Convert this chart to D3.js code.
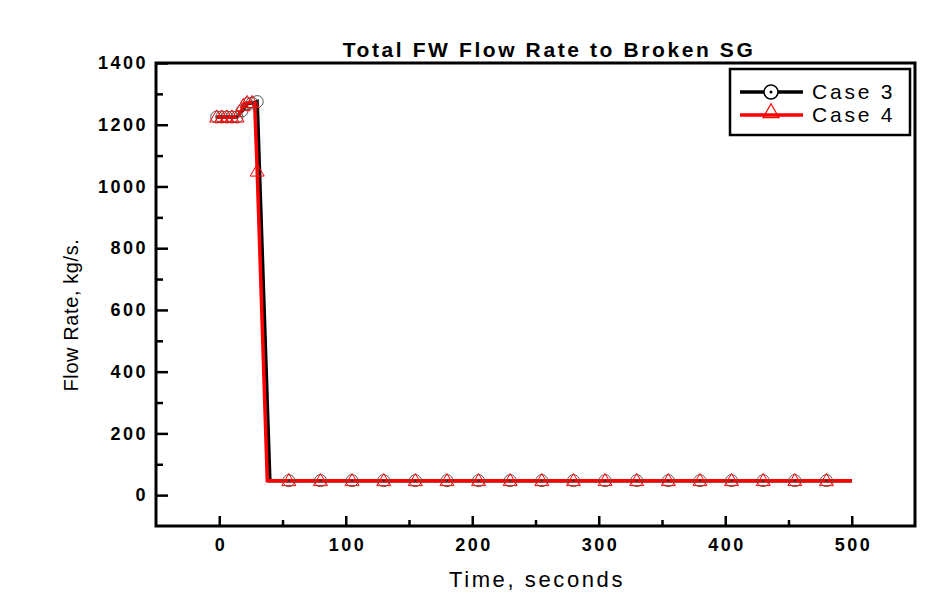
<!DOCTYPE html>
<html lang="en">
<head>
    <meta charset="UTF-8">
    <title>Total FW Flow Rate to Broken SG</title>
    <style>
        body { margin: 0; background: #fff; }
        svg text { font-family: Arial, "Liberation Sans", sans-serif; fill: #000; }
    </style>
</head>
<body>
    <div id="chart"></div>

    <script src="https://d3js.org/d3.v7.min.js"></script>
    <script>
        // Case 3 (black, circles) - line points
        const case3Time = [-2, 2, 6, 10, 14, 18, 22, 26, 30, 40, 55, 80, 105, 130, 155, 180, 205, 230, 255, 280, 305, 330, 355, 380, 405, 430, 455, 480, 500];
        const case3Flow = [1225, 1225, 1225, 1225, 1225, 1245, 1268, 1270, 1275, 47, 47, 47, 47, 47, 47, 47, 47, 47, 47, 47, 47, 47, 47, 47, 47, 47, 47, 47, 47];
        // Case 4 (red, triangles) - line points
        const case4Time = [-2, 2, 6, 10, 14, 17, 20, 24, 28, 30, 38, 55, 80, 105, 130, 155, 180, 205, 230, 255, 280, 305, 330, 355, 380, 405, 430, 455, 480, 500];
        const case4Flow = [1225, 1225, 1225, 1225, 1225, 1240, 1268, 1272, 1270, 1050, 47, 47, 47, 47, 47, 47, 47, 47, 47, 47, 47, 47, 47, 47, 47, 47, 47, 47, 47, 47];

        // symbol positions (the corner and end points carry no symbol)
        const case3MarkTime = [-2, 2, 6, 10, 14, 18, 22, 26, 30, 55, 80, 105, 130, 155, 180, 205, 230, 255, 280, 305, 330, 355, 380, 405, 430, 455, 480];
        const case3MarkFlow = [1225, 1225, 1225, 1225, 1225, 1245, 1268, 1270, 1275, 47, 47, 47, 47, 47, 47, 47, 47, 47, 47, 47, 47, 47, 47, 47, 47, 47, 47];
        const case4MarkTime = [-2, 2, 6, 10, 14, 19, 22, 26, 30, 55, 80, 105, 130, 155, 180, 205, 230, 255, 280, 305, 330, 355, 380, 405, 430, 455, 480];
        const case4MarkFlow = [1225, 1225, 1225, 1225, 1225, 1262, 1272, 1272, 1050, 47, 47, 47, 47, 47, 47, 47, 47, 47, 47, 47, 47, 47, 47, 47, 47, 47, 47];

        const xMajor = [0, 100, 200, 300, 400, 500];
        const xMinor = [50, 150, 250, 350, 450];
        const yMajor = [0, 200, 400, 600, 800, 1000, 1200, 1400];
        const yMinor = [100, 300, 500, 700, 900, 1100, 1300];

        const width = 935;
        const height = 604;
        const margin = { top: 63, right: 20, bottom: 78, left: 156 };

        const svg = d3.select("#chart").append("svg")
            .attr("width", width)
            .attr("height", height);

        const x = d3.scaleLinear()
            .domain([-50, 550])
            .range([margin.left, width - margin.right]);

        const y = d3.scaleLinear()
            .domain([-100, 1400])
            .range([height - margin.bottom, margin.top]);

        const plotBottom = height - margin.bottom;
        const fmt = d3.format("d");

        // axes with inward ticks
        function styleAxis(g) {
            g.select(".domain").remove();
            g.selectAll(".tick line").attr("stroke", "#000").attr("stroke-width", 2.5);
            g.selectAll(".tick text")
                .style("font-size", "18px")
                .style("font-weight", "bold")
                .style("letter-spacing", "2.5px");
        }

        svg.append("g")
            .attr("transform", `translate(0, ${plotBottom})`)
            .call(d3.axisBottom(x).tickValues(xMajor).tickFormat(fmt).tickSizeInner(-10).tickSizeOuter(0).tickPadding(12))
            .call(styleAxis)
            .selectAll(".tick text").attr("dx", "1.2px");

        svg.append("g")
            .attr("transform", `translate(0, ${plotBottom})`)
            .call(d3.axisBottom(x).tickValues(xMinor).tickSizeInner(-6).tickSizeOuter(0).tickFormat(""))
            .call(styleAxis);

        svg.append("g")
            .attr("transform", `translate(${margin.left}, 0)`)
            .call(d3.axisLeft(y).tickValues(yMajor).tickFormat(fmt).tickSizeInner(-12).tickSizeOuter(0).tickPadding(8))
            .call(styleAxis);

        svg.append("g")
            .attr("transform", `translate(${margin.left}, 0)`)
            .call(d3.axisLeft(y).tickValues(yMinor).tickSizeInner(-7).tickSizeOuter(0).tickFormat(""))
            .call(styleAxis);

        // frame
        svg.append("rect")
            .attr("x", x(-50))
            .attr("y", y(1400))
            .attr("width", x(550) - x(-50))
            .attr("height", y(-100) - y(1400))
            .attr("fill", "none")
            .attr("stroke", "#000")
            .attr("stroke-width", 3);

        // lines
        const line = d3.line().x(d => x(d[0])).y(d => y(d[1]));
        const case3 = d3.zip(case3Time, case3Flow);
        const case4 = d3.zip(case4Time, case4Flow);

        svg.append("path")
            .attr("d", line(case3))
            .attr("fill", "none")
            .attr("stroke", "#000")
            .attr("stroke-width", 3.5);

        svg.append("path")
            .attr("d", line(case4))
            .attr("fill", "none")
            .attr("stroke", "#ff0000")
            .attr("stroke-width", 3.5);

        // symbols
        const tri = d3.symbol().type(d3.symbolTriangle).size(85);

        function circleMark(g, cx, cy) {
            g.append("circle")
                .attr("cx", cx).attr("cy", cy).attr("r", 6)
                .attr("fill", "none")
                .attr("stroke", "#555")
                .attr("stroke-width", 1);
            g.append("circle")
                .attr("cx", cx).attr("cy", cy).attr("r", 1.2)
                .attr("fill", "#333");
        }

        const marks = svg.append("g");
        d3.zip(case3MarkTime, case3MarkFlow).forEach(d => circleMark(marks, x(d[0]), y(d[1])));

        marks.selectAll(".tri")
            .data(d3.zip(case4MarkTime, case4MarkFlow))
            .enter()
            .append("path")
            .attr("class", "tri")
            .attr("d", tri)
            .attr("transform", d => `translate(${x(d[0])}, ${y(d[1]) + 1})`)
            .attr("fill", "none")
            .attr("stroke", "#ff0000")
            .attr("stroke-width", 1);

        // title and axis labels
        svg.append("text")
            .attr("x", 549)
            .attr("y", 57)
            .attr("text-anchor", "middle")
            .style("font-size", "21px")
            .style("font-weight", "bold")
            .style("letter-spacing", "2.6px")
            .text("Total FW Flow Rate to Broken SG");

        svg.append("text")
            .attr("x", 537)
            .attr("y", 587)
            .attr("text-anchor", "middle")
            .style("font-size", "22px")
            .style("letter-spacing", "2.6px")
            .text("Time, seconds");

        svg.append("text")
            .attr("transform", "translate(78, 315) rotate(-90)")
            .attr("text-anchor", "middle")
            .style("font-size", "20px")
            .style("letter-spacing", "0.6px")
            .text("Flow Rate, kg/s.");

        // legend
        const legend = svg.append("g");
        legend.append("rect")
            .attr("x", 730).attr("y", 69)
            .attr("width", 180).attr("height", 66)
            .attr("fill", "#fff")
            .attr("stroke", "#000")
            .attr("stroke-width", 2.5);

        const legendItems = [
            { label: "Case 3", color: "#000", mark: "circle" },
            { label: "Case 4", color: "#ff0000", mark: "triangle" }
        ];

        legendItems.forEach((d, i) => {
            const ly = 92 + i * 23;
            legend.append("line")
                .attr("x1", 740).attr("x2", 803)
                .attr("y1", ly).attr("y2", ly)
                .attr("stroke", d.color)
                .attr("stroke-width", 3.5);
            if (d.mark === "circle") {
                legend.append("circle")
                    .attr("cx", 771).attr("cy", ly).attr("r", 7)
                    .attr("fill", "#fff").attr("stroke", "#000").attr("stroke-width", 1.5);
                legend.append("circle")
                    .attr("cx", 771).attr("cy", ly).attr("r", 1.5).attr("fill", "#000");
            } else {
                legend.append("path")
                    .attr("d", d3.symbol().type(d3.symbolTriangle).size(110))
                    .attr("transform", `translate(771, ${ly - 2})`)
                    .attr("fill", "none").attr("stroke", d.color).attr("stroke-width", 1.2);
            }
            legend.append("text")
                .attr("x", 812)
                .attr("y", ly + 7)
                .style("font-size", "21px")
                .style("letter-spacing", "2.8px")
                .text(d.label);
        });
    </script>
</body>
</html>
